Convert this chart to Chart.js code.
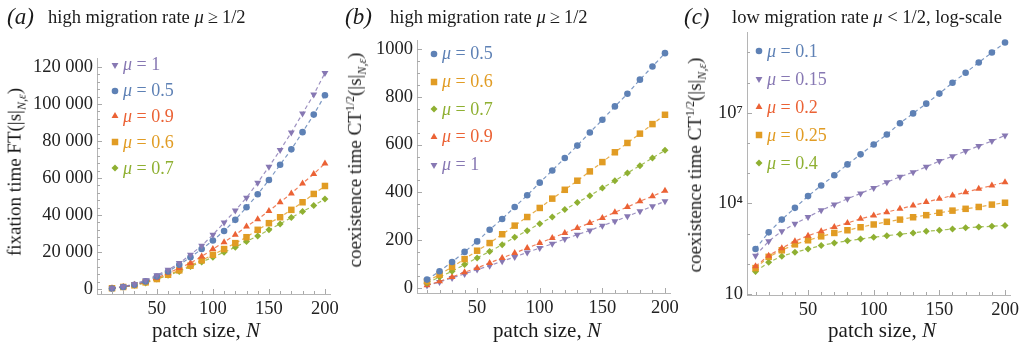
<!DOCTYPE html>
<html>
<head>
<meta charset="utf-8">
<script src="https://cdn.jsdelivr.net/npm/chart.js@4.4.1/dist/chart.umd.min.js"></script>
<style>
  body { margin: 0; background: #fff; width: 1025px; height: 345px; overflow: hidden; position: relative;
         font-family: "Liberation Serif", "DejaVu Serif", serif; color: #1a1a1a; }
  canvas.panel { position: absolute; top: 0; }
  .t { position: absolute; white-space: nowrap; line-height: 1; }
  .lab { font-style: italic; font-size: 23px; }
  .ttl { font-size: 18.5px; }
  .ttl .op { margin: 0 4px; }
  .axt { font-size: 21px; transform: translate(-50%, -50%); }
  .axt.rot { font-size: 19px; transform: translate(-50%, -50%) rotate(-90deg); }
  .axt sub, .axt sup { font-size: 12px; }
  .legend { position: absolute; font-size: 18px; }
  .legend .row { display: flex; align-items: center; white-space: nowrap; }
  .legend canvas { margin-right: 2px; }
</style>
</head>
<body>
<canvas id="cA" class="panel" width="350" height="345" style="left:0"></canvas>
<canvas id="cB" class="panel" width="350" height="345" style="left:340px"></canvas>
<canvas id="cC" class="panel" width="345" height="345" style="left:680px"></canvas>

<div class="t lab" style="left:7px;top:5px">(a)</div>
<div class="t ttl" style="left:48px;top:8px">high migration rate <i>μ</i><span class="op">≥</span>1/2</div>
<div class="t lab" style="left:345px;top:5px">(b)</div>
<div class="t ttl" style="left:390px;top:8px">high migration rate <i>μ</i><span class="op">≥</span>1/2</div>
<div class="t lab" style="left:684px;top:5px">(c)</div>
<div class="t ttl" style="left:732px;top:8px">low migration rate <i>μ</i> &lt; 1/2, log-scale</div>

<div class="t axt" style="left:206px;top:330px">patch size, <i>N</i></div>
<div class="t axt" style="left:547px;top:330px">patch size, <i>N</i></div>
<div class="t axt" style="left:882px;top:330px">patch size, <i>N</i></div>
<div class="t axt rot" style="left:16px;top:172px">fixation time FT(|s|<sub><i>N</i>,<i>ε</i></sub>)</div>
<div class="t axt rot" style="left:356px;top:160px">coexistence time CT<sup>1/2</sup>(|s|<sub><i>N</i>,<i>ε</i></sub>)</div>
<div class="t axt rot" style="left:696px;top:165px">coexistence time CT<sup>1/2</sup>(|s|<sub><i>N</i>,<i>ε</i></sub>)</div>

<div id="legA" class="legend" style="left:109px;top:52px"></div>
<div id="legB" class="legend" style="left:428px;top:40px"></div>
<div id="legC" class="legend" style="left:753px;top:37px"></div>

<script>
// patch sizes
const N = [10, 20, 30, 40, 50, 60, 70, 80, 90, 100, 110, 120, 130, 140, 150, 160, 170, 180, 190, 200];

// (a) fixation time
const ftMu1  = [400, 1300, 2700, 4700, 7400, 10400, 14000, 18500, 23400, 29300, 35900, 42400, 49400, 57500, 66100, 75100, 84600, 94900, 105100, 116800];
const ftMu05 = [300, 1100, 2300, 4100, 6800, 9500, 13100, 17200, 21600, 26200, 31400, 37400, 44200, 51200, 58900, 67200, 75500, 84800, 94300, 104800];
const ftMu09 = [400, 1100, 2300, 3800, 5900, 8600, 11300, 14000, 17600, 21600, 25300, 29300, 33800, 37700, 42200, 46900, 51700, 57100, 62200, 67900];
const ftMu06 = [400, 1100, 2000, 3600, 5400, 7700, 10100, 12600, 15500, 18500, 21600, 24800, 28000, 32000, 35600, 38800, 42800, 46900, 51400, 55700];
const ftMu07 = [400, 1100, 2000, 3200, 5400, 7400, 9500, 12200, 14600, 17200, 19900, 22600, 25700, 28700, 32000, 35200, 38600, 41900, 45100, 48700];

// (b) coexistence time, high migration
const ctMu05 = [35, 70, 109, 151, 195, 244, 289, 339, 388, 441, 492, 544, 596, 651, 704, 760, 813, 872, 927, 983];
const ctMu06 = [28, 56, 88, 121, 156, 188, 225, 261, 297, 335, 374, 411, 449, 488, 527, 568, 607, 646, 686, 725];
const ctMu07 = [21, 46, 70, 98, 126, 153, 181, 212, 240, 269, 297, 328, 358, 386, 418, 449, 481, 512, 544, 576];
const ctMu09 = [11, 28, 46, 66, 84, 105, 126, 146, 167, 188, 209, 230, 251, 272, 293, 317, 339, 363, 384, 407];
const ctMu1  = [10, 25, 42, 59, 77, 93, 112, 130, 149, 167, 185, 205, 223, 241, 261, 279, 300, 321, 342, 363];

// (c) coexistence time, low migration (log scale)
const lowMu010 = [310, 1100, 2900, 7100, 17400, 39000, 85000, 195000, 420000, 890000, 1.9e6, 4.5e6, 9.5e6, 2.0e7, 4.3e7, 9.8e7, 2.1e8, 4.6e8, 9.8e8, 2.1e9];
const lowMu015 = [186, 560, 1200, 2100, 3550, 5900, 9100, 14100, 21400, 32400, 50000, 76000, 107000, 162000, 251000, 363000, 537000, 794000, 1.15e6, 1.78e6];
const lowMu020 = [83, 186, 330, 560, 850, 1200, 1660, 2240, 3090, 3980, 5130, 6600, 8500, 11000, 14100, 18200, 23400, 30200, 38900, 50000];
const lowMu025 = [72, 170, 280, 440, 600, 810, 1050, 1290, 1620, 2000, 2450, 2900, 3470, 4070, 4900, 5750, 6600, 7600, 9100, 10500];
const lowMu040 = [56, 112, 178, 240, 310, 400, 490, 575, 660, 760, 850, 955, 1050, 1200, 1290, 1410, 1550, 1660, 1740, 1860];

// ticks
const xMajor = [50, 100, 150, 200];
const xMinor = [0, 10, 20, 30, 40, 60, 70, 80, 90, 110, 120, 130, 140, 160, 170, 180, 190];
const yMajorA = [0, 20000, 40000, 60000, 80000, 100000, 120000];
const yMajorB = [0, 200, 400, 600, 800, 1000];
const yMajorC = [10, 1e4, 1e7];
const yMinorC = [100, 1000, 1e5, 1e6, 1e8, 1e9];
const yLabelsC = ['10', '10\u2074', '10\u2077'];

const STYLE = {
  blue:   { color: '#5E81B5', pointStyle: 'circle',   radius: 3.3, rotation: 0 },
  orange: { color: '#E19C24', pointStyle: 'rect',     radius: 4.6, rotation: 0 },
  green:  { color: '#8FB032', pointStyle: 'rectRot',  radius: 3.5, rotation: 0 },
  red:    { color: '#EB6235', pointStyle: 'triangle', radius: 4,   rotation: 0 },
  purple: { color: '#8778B3', pointStyle: 'triangle', radius: 4,   rotation: 180 },
};

const FONT = '"Liberation Serif", "DejaVu Serif", serif';

function minorsBetween(major, parts) {
  const out = [];
  for (let i = 0; i < major.length - 1; i++) {
    const step = (major[i + 1] - major[i]) / parts;
    for (let k = 1; k < parts; k++) out.push(major[i] + k * step);
  }
  return out;
}

// Mathematica-style ticks: short marks pointing into the plot
const inwardTicks = {
  id: 'inwardTicks',
  afterDatasetsDraw(chart, args, o) {
    const { ctx, chartArea: a, scales: { x, y } } = chart;
    ctx.save();
    ctx.strokeStyle = '#a9a9a9';
    ctx.lineWidth = 1;
    ctx.beginPath();
    const xs = [[o.xMajor, 5], [o.xMinor, 3]];
    xs.forEach(([vals, len]) => vals.forEach((v) => {
      const p = Math.round(x.getPixelForValue(v)) + 0.5;
      if (p < a.left || p > a.right) return;
      ctx.moveTo(p, a.bottom); ctx.lineTo(p, a.bottom - len);
    }));
    const ys = [[o.yMajor, 5], [o.yMinor, 3]];
    ys.forEach(([vals, len]) => vals.forEach((v) => {
      const p = Math.round(y.getPixelForValue(v)) + 0.5;
      if (p < a.top || p > a.bottom) return;
      ctx.moveTo(a.left, p); ctx.lineTo(a.left + len, p);
    }));
    ctx.stroke();
    ctx.restore();
  },
};

function dataset(s) {
  const st = STYLE[s.style];
  return {
    label: 'μ = ' + s.mu,
    data: N.map((n, i) => ({ x: n, y: s.values[i] })),
    borderColor: st.color + 'D0',
    backgroundColor: st.color,
    borderWidth: 1.2,
    borderDash: [4, 3],
    pointStyle: st.pointStyle,
    pointRotation: st.rotation,
    pointRadius: st.radius,
    pointBorderWidth: 0,
    pointBackgroundColor: st.color,
    tension: 0,
  };
}

function makePanel(id, p) {
  const tickFont = { family: FONT, size: 18.5 };
  return new Chart(document.getElementById(id), {
    type: 'line',
    data: { datasets: p.series.map(dataset) },
    options: {
      responsive: false,
      animation: false,
      events: [],
      layout: { padding: { top: p.top, right: p.padRight, left: 0, bottom: 0 } },
      plugins: {
        legend: { display: false },
        tooltip: { enabled: false },
        inwardTicks: { xMajor, xMinor, yMajor: p.yMajor, yMinor: p.yMinor },
      },
      scales: {
        x: {
          type: 'linear', min: p.xMin, max: p.xMax,
          grid: { display: false, drawTicks: false },
          border: { display: true, color: '#b5b5b5' },
          ticks: { font: tickFont, color: '#222', padding: 4, maxRotation: 0 },
          afterBuildTicks: (s) => { s.ticks = xMajor.map((v) => ({ value: v })); },
          afterFit: (s) => { s.height = 345 - p.bottom; },
        },
        y: {
          type: p.log ? 'logarithmic' : 'linear', min: p.yMin, max: p.yMax,
          grid: { display: false, drawTicks: false },
          border: { display: true, color: '#b5b5b5' },
          ticks: { font: tickFont, color: '#222', padding: 4, callback: p.yLabel },
          afterBuildTicks: (s) => { s.ticks = p.yMajor.map((v) => ({ value: v })); },
          afterFit: (s) => { s.width = p.left; },
        },
      },
    },
    plugins: [inwardTicks],
  });
}

function buildLegend(id, series, rowH) {
  const box = document.getElementById(id);
  series.forEach((s) => {
    const st = STYLE[s.style];
    const row = document.createElement('div');
    row.className = 'row';
    row.style.height = rowH + 'px';
    row.style.color = st.color;
    const c = document.createElement('canvas');
    c.width = 12; c.height = 12;
    const g = c.getContext('2d');
    g.fillStyle = st.color;
    Chart.helpers.drawPoint(g, { pointStyle: st.pointStyle, rotation: st.rotation, radius: st.radius, borderWidth: 0 }, 6, 6);
    row.appendChild(c);
    const t = document.createElement('span');
    t.innerHTML = '<i>μ</i> = ' + s.mu;
    row.appendChild(t);
    box.appendChild(row);
  });
}

const spaced = (v) => String(v).replace(/\B(?=(\d{3})+(?!\d))/g, ' ');

const seriesA = [
  { mu: '1', style: 'purple', values: ftMu1 },
  { mu: '0.5', style: 'blue', values: ftMu05 },
  { mu: '0.9', style: 'red', values: ftMu09 },
  { mu: '0.6', style: 'orange', values: ftMu06 },
  { mu: '0.7', style: 'green', values: ftMu07 },
];
const seriesB = [
  { mu: '0.5', style: 'blue', values: ctMu05 },
  { mu: '0.6', style: 'orange', values: ctMu06 },
  { mu: '0.7', style: 'green', values: ctMu07 },
  { mu: '0.9', style: 'red', values: ctMu09 },
  { mu: '1', style: 'purple', values: ctMu1 },
];
const seriesC = [
  { mu: '0.1', style: 'blue', values: lowMu010 },
  { mu: '0.15', style: 'purple', values: lowMu015 },
  { mu: '0.2', style: 'red', values: lowMu020 },
  { mu: '0.25', style: 'orange', values: lowMu025 },
  { mu: '0.4', style: 'green', values: lowMu040 },
];

makePanel('cA', {
  series: seriesA, left: 97, top: 58, padRight: 20, bottom: 294,
  xMin: -3.4, xMax: 204.5, yMin: -2700, yMax: 124900,
  yMajor: yMajorA, yMinor: minorsBetween(yMajorA, 5), yLabel: spaced,
});
makePanel('cB', {
  series: seriesB, left: 77, top: 40, padRight: 20, bottom: 293,
  xMin: 2, xMax: 204, yMin: -21, yMax: 1038,
  yMajor: yMajorB, yMinor: minorsBetween(yMajorB, 4), yLabel: (v) => String(v),
});
makePanel('cC', {
  series: seriesC, left: 67, top: 32, padRight: 15, bottom: 295, log: true,
  xMin: 3.5, xMax: 203.8, yMin: 9.27, yMax: 4.7e9,
  yMajor: yMajorC, yMinor: yMinorC,
  yLabel: (v) => yLabelsC[yMajorC.indexOf(v)] || '',
});

buildLegend('legA', seriesA, 25.8);
buildLegend('legB', seriesB, 27.7);
buildLegend('legC', seriesC, 28);
</script>
</body>
</html>
